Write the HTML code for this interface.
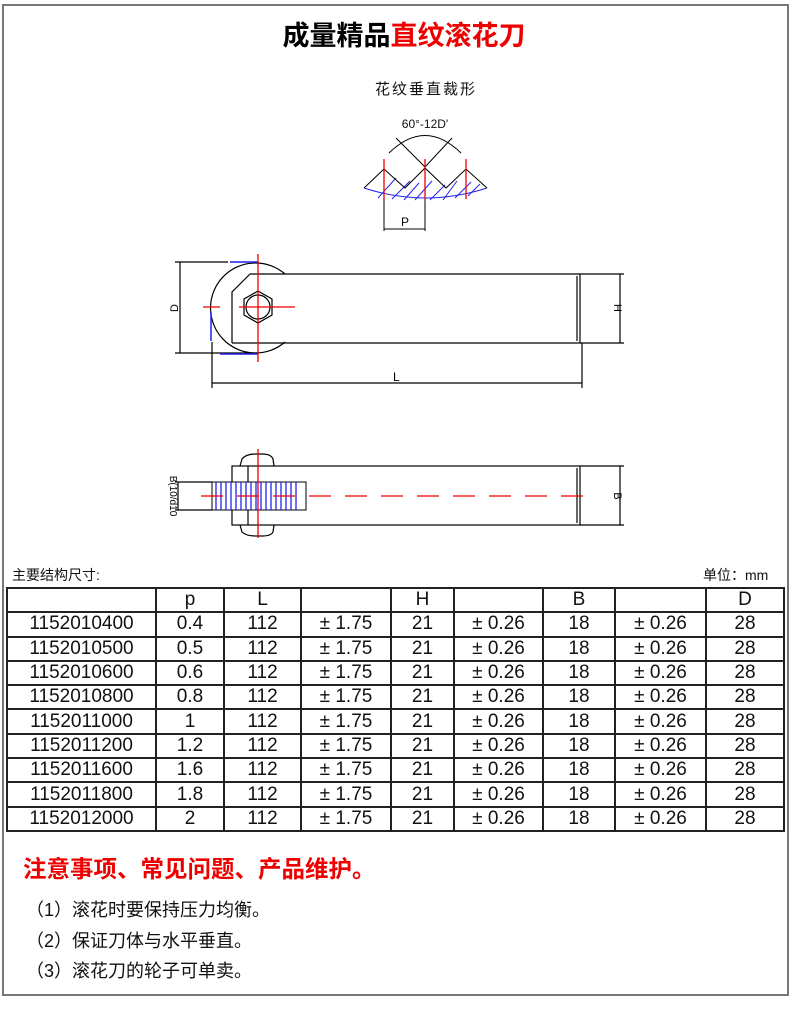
<!DOCTYPE html>
<html><head><meta charset="utf-8"><style>
html,body{margin:0;padding:0;background:#fff;}
body{width:790px;height:1019px;position:relative;overflow:hidden;font-family:"Liberation Sans","Noto Sans CJK SC",sans-serif;}
.frame{position:absolute;left:2px;top:4px;width:783px;height:988px;border:2px solid #777;}
.title{position:absolute;left:0;width:808px;top:14px;text-align:center;font-size:27px;font-weight:bold;color:#000;font-family:"Liberation Sans","Noto Sans CJK SC",sans-serif;}
.title span{color:#e00;}
table{position:absolute;left:6px;top:587px;border-collapse:collapse;font-size:19px;color:#111;}
td{border:2px solid #222;text-align:center;height:22.3px;padding:0;line-height:22px;}
.lab{position:absolute;font-size:14px;color:#111;}
.note{position:absolute;left:23px;top:850px;font-size:23.5px;font-weight:bold;color:#e00;}
.item{position:absolute;left:26px;font-size:18px;color:#111;}
</style></head><body>
<div class="frame"></div>
<div class="title">成量精品<span>直纹滚花刀</span></div>
<svg width="790" height="1019" style="position:absolute;left:0;top:0" font-family="Liberation Sans, Noto Sans CJK SC, sans-serif">
<text x="426" y="94" font-size="15" letter-spacing="2" text-anchor="middle" fill="#111">花纹垂直裁形</text>
<text x="425" y="128" font-size="12" text-anchor="middle" fill="#111">60°-12D'</text>
<path d="M389,153 Q425,118 461,153" fill="none" stroke="#000" stroke-width="1"/>
<polyline points="396,138 425,167 452,138" fill="none" stroke="#000"/>
<g stroke="#2222ee" stroke-width="1">
<path d="M364,188 Q425,208 487,188" fill="none"/>
<line x1="378" y1="198" x2="396" y2="178"/><line x1="392" y1="199" x2="410" y2="181"/><line x1="404" y1="200" x2="419" y2="183"/><line x1="415" y1="200" x2="432" y2="181"/><line x1="430" y1="200" x2="445" y2="185"/><line x1="443" y1="200" x2="457" y2="181"/><line x1="455" y1="198" x2="471" y2="182"/><line x1="468" y1="196" x2="480" y2="184"/>
</g>
<polyline points="364,188 384,169 405,188 425,168 446,188 466,169 487,188" fill="none" stroke="#000"/>
<g stroke="#e00" stroke-width="1.3"><line x1="384" y1="159" x2="384" y2="199"/><line x1="425" y1="159" x2="425" y2="199"/><line x1="466" y1="159" x2="466" y2="199"/></g>
<g stroke="#000"><line x1="384" y1="199" x2="384" y2="231"/><line x1="425" y1="199" x2="425" y2="231"/><line x1="384" y1="229" x2="425" y2="229"/></g>
<text x="405" y="226" font-size="12" text-anchor="middle">P</text>
<g stroke="#000" stroke-width="1.2" fill="none">
<path d="M285,274 A45,45 0 1 0 285,342"/>
<line x1="250" y1="274" x2="580" y2="274"/><line x1="232" y1="343" x2="580" y2="343"/>
<polyline points="250,274 232,292 232,343"/>
<line x1="580" y1="274" x2="580" y2="343"/><line x1="577" y1="276" x2="577" y2="341"/>
<polygon points="258,291 272,299 272,315 258,323 244,315 244,299"/>
<circle cx="258" cy="307" r="12"/>
<line x1="175" y1="262" x2="228" y2="262"/><line x1="175" y1="353" x2="258" y2="353"/><line x1="180" y1="262" x2="180" y2="353"/>
<line x1="580" y1="274" x2="624" y2="274"/><line x1="580" y1="343" x2="624" y2="343"/><line x1="620" y1="274" x2="620" y2="343"/>
<line x1="212" y1="342" x2="212" y2="388"/><line x1="582" y1="343" x2="582" y2="388"/><line x1="212" y1="383" x2="582" y2="383"/>
</g>
<g stroke="#22e" stroke-width="1.5"><line x1="230" y1="262" x2="258" y2="262"/><line x1="211" y1="312" x2="211" y2="341"/><line x1="220" y1="354" x2="258" y2="354"/></g>
<g stroke="#e00" stroke-width="1.3"><line x1="258" y1="254" x2="258" y2="362"/><line x1="239" y1="307" x2="295" y2="307"/><line x1="203" y1="307" x2="220" y2="307"/></g>
<text x="178" y="308" font-size="11" transform="rotate(-90 178 308)" text-anchor="middle">D</text>
<text x="614" y="308" font-size="11" transform="rotate(90 614 308)" text-anchor="middle">H</text>
<text x="393" y="381" font-size="12">L</text>
<g stroke="#000" stroke-width="1.2" fill="none">
<rect x="232" y="466" width="348" height="59"/>
<line x1="248" y1="466" x2="248" y2="525"/><line x1="577" y1="468" x2="577" y2="523"/>
<path d="M240,466 L242,459 Q246,454 256,454 L262,454 Q271,454 273,459 L274,466"/>
<path d="M240,525 L242,532 Q246,536 256,536 L262,536 Q271,536 273,532 L274,525"/>
<line x1="175" y1="482" x2="212" y2="482"/><line x1="175" y1="510" x2="212" y2="510"/><line x1="178" y1="482" x2="178" y2="510"/>
<line x1="580" y1="466" x2="624" y2="466"/><line x1="580" y1="525" x2="624" y2="525"/><line x1="620" y1="466" x2="620" y2="525"/>
</g>
<rect x="212" y="482" width="94" height="28" fill="#fff" stroke="#000"/>
<g stroke="#22e" stroke-width="1.3">
<line x1="216" y1="482" x2="216" y2="510"/><line x1="221" y1="482" x2="221" y2="510"/><line x1="226" y1="482" x2="226" y2="510"/><line x1="231" y1="482" x2="231" y2="510"/><line x1="236" y1="482" x2="236" y2="510"/><line x1="241" y1="482" x2="241" y2="510"/><line x1="246" y1="482" x2="246" y2="510"/><line x1="251" y1="482" x2="251" y2="510"/><line x1="256" y1="482" x2="256" y2="510"/><line x1="261" y1="482" x2="261" y2="510"/><line x1="266" y1="482" x2="266" y2="510"/><line x1="271" y1="482" x2="271" y2="510"/><line x1="276" y1="482" x2="276" y2="510"/><line x1="281" y1="482" x2="281" y2="510"/><line x1="286" y1="482" x2="286" y2="510"/><line x1="291" y1="482" x2="291" y2="510"/><line x1="296" y1="482" x2="296" y2="510"/>
</g>
<g stroke="#e00" stroke-width="1.3"><line x1="201" y1="496" x2="590" y2="496" stroke-dasharray="22,14"/><line x1="258" y1="449" x2="258" y2="538"/></g>
<text x="170" y="496" font-size="10" transform="rotate(90 170 496)" text-anchor="middle">B(10/d10</text>
<text x="614" y="496" font-size="11" transform="rotate(90 614 496)" text-anchor="middle">B</text>
</svg>
<div class="lab" style="left:12px;top:565px">主要结构尺寸:</div>
<div class="lab" style="left:703px;top:565px">单位：mm</div>
<table>
<tr><td style="width:147px"></td><td style="width:66px">p</td><td style="width:75px">L</td><td style="width:88px"></td><td style="width:61px">H</td><td style="width:87px"></td><td style="width:70px">B</td><td style="width:89px"></td><td style="width:76px">D</td></tr>
<tr><td>1152010400</td><td>0.4</td><td>112</td><td>± 1.75</td><td>21</td><td>± 0.26</td><td>18</td><td>± 0.26</td><td>28</td></tr>
<tr><td>1152010500</td><td>0.5</td><td>112</td><td>± 1.75</td><td>21</td><td>± 0.26</td><td>18</td><td>± 0.26</td><td>28</td></tr>
<tr><td>1152010600</td><td>0.6</td><td>112</td><td>± 1.75</td><td>21</td><td>± 0.26</td><td>18</td><td>± 0.26</td><td>28</td></tr>
<tr><td>1152010800</td><td>0.8</td><td>112</td><td>± 1.75</td><td>21</td><td>± 0.26</td><td>18</td><td>± 0.26</td><td>28</td></tr>
<tr><td>1152011000</td><td>1</td><td>112</td><td>± 1.75</td><td>21</td><td>± 0.26</td><td>18</td><td>± 0.26</td><td>28</td></tr>
<tr><td>1152011200</td><td>1.2</td><td>112</td><td>± 1.75</td><td>21</td><td>± 0.26</td><td>18</td><td>± 0.26</td><td>28</td></tr>
<tr><td>1152011600</td><td>1.6</td><td>112</td><td>± 1.75</td><td>21</td><td>± 0.26</td><td>18</td><td>± 0.26</td><td>28</td></tr>
<tr><td>1152011800</td><td>1.8</td><td>112</td><td>± 1.75</td><td>21</td><td>± 0.26</td><td>18</td><td>± 0.26</td><td>28</td></tr>
<tr><td>1152012000</td><td>2</td><td>112</td><td>± 1.75</td><td>21</td><td>± 0.26</td><td>18</td><td>± 0.26</td><td>28</td></tr>
</table>
<div class="note">注意事项、常见问题、产品维护。</div>
<div class="item" style="top:896px">（1）滚花时要保持压力均衡。</div>
<div class="item" style="top:927px">（2）保证刀体与水平垂直。</div>
<div class="item" style="top:957px">（3）滚花刀的轮子可单卖。</div>
</body></html>
